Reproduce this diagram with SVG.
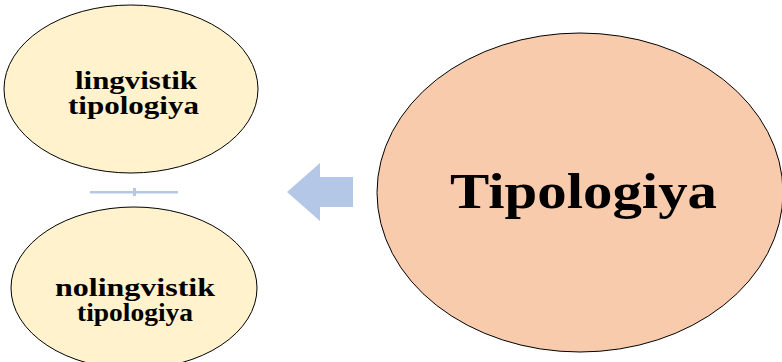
<svg xmlns="http://www.w3.org/2000/svg" width="782" height="362" viewBox="0 0 782 362">
<style>
.small{fill:#fff2cc;stroke:#000;stroke-width:1}
.big{fill:#f8cbad;stroke:#000;stroke-width:1}
.lbl{font-family:"Liberation Serif","Times New Roman",serif;font-weight:bold;fill:#000;text-anchor:start}
.conn{fill:#b4c7e7;stroke:none}
</style>
<rect width="782" height="362" fill="#fff"/>
<g id="node-lingvistik">
<ellipse class="small" cx="131" cy="89" rx="127" ry="84"/>
<text class="lbl" font-size="24.5" x="75" y="88.5" textLength="122" lengthAdjust="spacingAndGlyphs">lingvistik</text>
<text class="lbl" font-size="24.5" x="68" y="113.5" textLength="131" lengthAdjust="spacingAndGlyphs">tipologiya</text>
</g>
<g id="node-nolingvistik">
<ellipse class="small" cx="134" cy="288" rx="123" ry="81"/>
<text class="lbl" font-size="24.5" x="55" y="295.5" textLength="160" lengthAdjust="spacingAndGlyphs">nolingvistik</text>
<text class="lbl" font-size="24.5" x="77" y="320.5" textLength="116" lengthAdjust="spacingAndGlyphs">tipologiya</text>
</g>
<g id="node-tipologiya">
<ellipse class="big" cx="580" cy="192.5" rx="203" ry="159.5"/>
<text class="lbl" font-size="50" x="450" y="207.5" textLength="267" lengthAdjust="spacingAndGlyphs">Tipologiya</text>
</g>
<g id="connectors">
<rect class="conn" x="90" y="191" width="88" height="2.5"/>
<rect class="conn" x="133" y="188" width="3" height="8"/>
<polygon class="conn" points="287,192 320,163 320,177 353,177 353,207 320,207 320,221"/>
</g>
</svg>
